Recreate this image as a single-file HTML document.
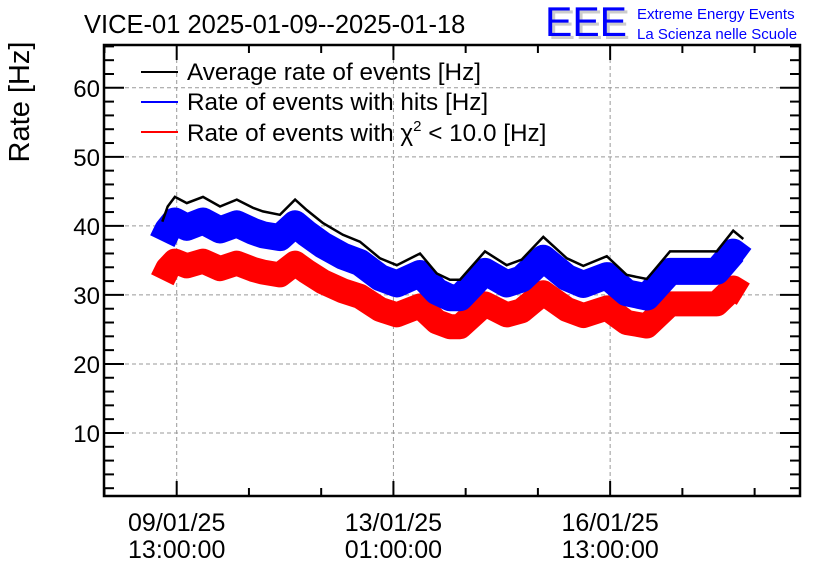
<!DOCTYPE html>
<html><head><meta charset="utf-8"><style>
body{margin:0;background:#fff;}
svg{display:block;font-family:"Liberation Sans",sans-serif;}
</style></head><body>
<svg id="chart" width="836" height="572" viewBox="0 0 836 572">
<text x="84" y="33" font-size="25.5" fill="#000">VICE-01 2025-01-09--2025-01-18</text>
<g>
<text x="548" y="39" font-size="42" fill="#ccc" textLength="82" lengthAdjust="spacingAndGlyphs">EEE</text>
<text x="545" y="36" font-size="42" fill="#0000ff" textLength="82" lengthAdjust="spacingAndGlyphs">EEE</text>
<text x="637" y="19" font-size="15" fill="#0000ff">Extreme Energy Events</text>
<text x="637" y="39" font-size="15" fill="#0000ff">La Scienza nelle Scuole</text>
</g>
<text transform="translate(29,102) rotate(-90)" text-anchor="middle" font-size="29">Rate [Hz]</text>
<g id="grid"></g>
<g id="series"></g>
<g id="axes"></g>
<g>
<g><line x1="141" y1="72" x2="178" y2="72" stroke="#000" stroke-width="2"/><text x="187" y="80" font-size="24.3">Average rate of events [Hz]</text></g>
<g><line x1="141" y1="102" x2="178" y2="102" stroke="#0000ff" stroke-width="2"/><text x="187" y="110" font-size="24.3">Rate of events with hits [Hz]</text></g>
<g><line x1="141" y1="132" x2="178" y2="132" stroke="#ff0000" stroke-width="2"/><text x="187" y="141" font-size="24.3">Rate of events with χ<tspan font-size="15" dy="-10">2</tspan><tspan dy="10"> &lt; 10.0 [Hz]</tspan></text></g>
</g>
</svg>
<script>
const hours=[-5.6,-3.5,-0.7,3.9,10.2,16.8,23.3,29.6,33.4,40,45.9,50.4,56.7,64.4,71,78.8,85.3,94.3,100.8,105.9,109.8,119.5,127.9,133.7,142.1,151.2,157.6,166.7,174.4,182.2,191.2,200.2,209.3,215.7,219.6];
const avgRate=[40.6,42.8,44.2,43.3,44.2,42.8,43.8,42.6,42.1,41.6,43.8,42.3,40.4,38.7,37.7,35.3,34.3,36.0,33.1,32.2,32.2,36.3,34.3,35.1,38.4,35.3,34.2,35.6,32.9,32.3,36.3,36.3,36.3,39.3,38.1];
const hitsRate=[37.8,39.4,40.7,39.8,40.7,39.4,40.3,39.2,38.7,38.3,40.3,38.9,37.2,35.6,34.7,32.5,31.6,33.1,30.5,29.6,29.6,33.4,31.6,32.3,35.3,32.5,31.5,32.8,30.3,29.7,33.4,33.4,33.4,36.2,35.1];
const chi2Rate=[32.2,33.8,34.9,34.2,34.9,33.8,34.6,33.7,33.3,32.9,34.6,33.4,31.9,30.6,29.8,27.9,27.1,28.4,26.1,25.4,25.4,28.7,27.1,27.7,30.3,27.9,27.0,28.1,26.0,25.5,28.7,28.7,28.7,31.0,30.1];
const yTicks=[10,20,30,40,50,60];
const xTickHours=[0,84,168];
const xTickLabels=[["09/01/25","13:00:00"],["13/01/25","01:00:00"],["16/01/25","13:00:00"]];

const L=104,R=800,T=45,B=496;
const yMin=0.87,yMax=66.2;
const x0px=176.7,pxPerHour=2.58;
const X=h=>x0px+h*pxPerHour;
const Y=v=>B-(v-yMin)/(yMax-yMin)*(B-T);
const NS="http://www.w3.org/2000/svg";
function mk(tag,attrs,parent){const e=document.createElementNS(NS,tag);for(const k in attrs)e.setAttribute(k,attrs[k]);parent.appendChild(e);return e;}
const grid=document.getElementById('grid'),series=document.getElementById('series'),axes=document.getElementById('axes');

yTicks.forEach(v=>{
  const g=mk('line',{x1:L,x2:R,y1:Y(v),y2:Y(v),stroke:'#999','stroke-dasharray':'4,3','stroke-width':1},grid);
  
  
  const t=mk('text',{x:L-4,y:Y(v)+9,'text-anchor':'end','font-size':24},axes);
  t.textContent=v;
  
  
});
xTickHours.forEach((h,i)=>{
  const g=mk('line',{x1:X(h),x2:X(h),y1:T,y2:B,stroke:'#999','stroke-dasharray':'4,3','stroke-width':1},grid);
  
  
  xTickLabels[i].forEach((s,j)=>{
    const t=mk('text',{x:X(h),y:531+j*27,'text-anchor':'middle','font-size':25},axes);
    t.textContent=s;
    
    
  });
});
for(let v=2;v<yMax;v+=2){
  const major=v%10===0, len=major?20:10;
  mk('line',{x1:L,x2:L+len,y1:Y(v),y2:Y(v),stroke:'#000','stroke-width':2},axes);
  mk('line',{x1:R,x2:R-len,y1:Y(v),y2:Y(v),stroke:'#000','stroke-width':2},axes);
}
for(let h=-28;X(h)<R;h+=28){
  if(X(h)<L)continue;
  const major=h%84===0, len=major?15:8;
  mk('line',{x1:X(h),x2:X(h),y1:B,y2:B-len,stroke:'#000','stroke-width':2},axes);
  mk('line',{x1:X(h),x2:X(h),y1:T,y2:T+len,stroke:'#000','stroke-width':2},axes);
}
const fr=mk('rect',{x:L,y:T,width:R-L,height:B-T,fill:'none',stroke:'#000','stroke-width':2.5},axes);



function pts(arr){return hours.map((h,i)=>X(h).toFixed(1)+','+Y(arr[i]).toFixed(1)).join(' ');}
const red=mk('polyline',{points:pts(chi2Rate),fill:'none',stroke:'#ff0000','stroke-width':25,'stroke-linejoin':'round','stroke-linecap':'butt'},series);


const blue=mk('polyline',{points:pts(hitsRate),fill:'none',stroke:'#0000ff','stroke-width':27,'stroke-linejoin':'round','stroke-linecap':'butt'},series);


const blk=mk('polyline',{points:pts(avgRate),fill:'none',stroke:'#000','stroke-width':2.5},series);


</script>
</body></html>
